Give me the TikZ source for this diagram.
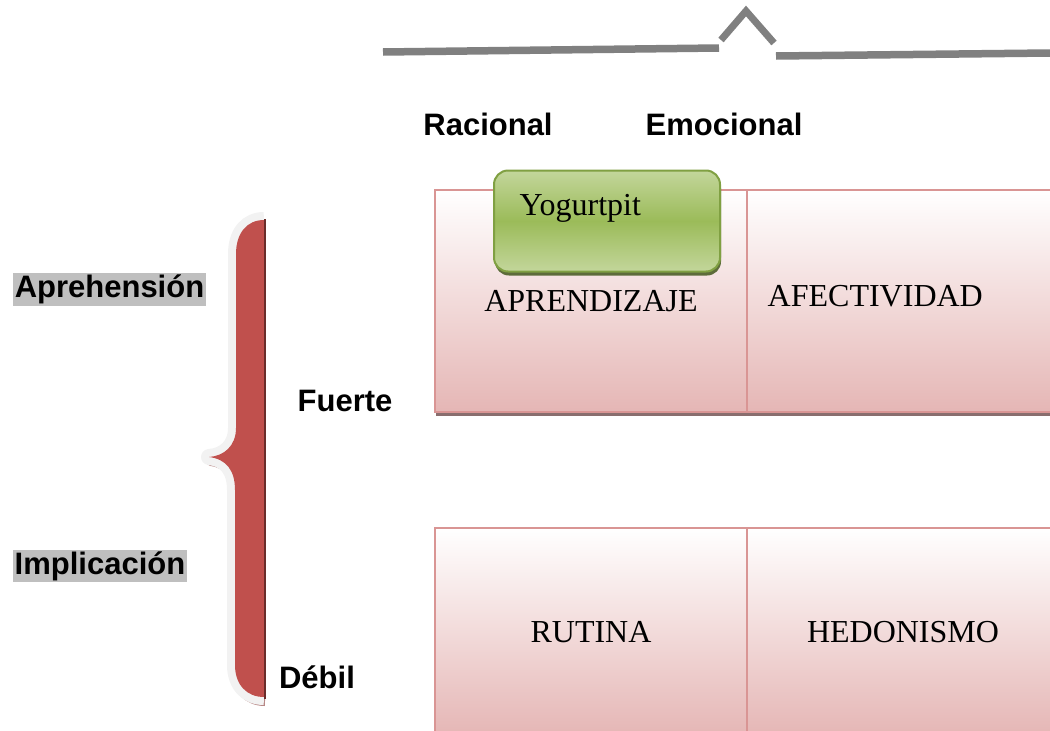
\documentclass[tikz,border=0pt]{standalone}
\usepackage{fontspec}
\setmainfont{Liberation Serif}
\setsansfont{Liberation Sans}
\usepackage {tikz}
\usetikzlibrary {positioning}
\usetikzlibrary{shadows}
\definecolor{pinkline}{RGB}{217,149,148}
\definecolor{pinkbot}{RGB}{229,182,181}
\definecolor{gtop}{RGB}{195,214,155}
\definecolor{gmid}{RGB}{155,187,89}
\definecolor{gline}{RGB}{128,160,66}
\definecolor{bracered}{RGB}{192,80,77}
\definecolor{braceedge}{RGB}{242,242,242}
\definecolor{labelgrey}{RGB}{191,191,191}
\definecolor{topline}{RGB}{128,128,128}
\tikzset{cell/.style = {draw=pinkline, line width=2.5pt, top color=white, bottom color=pinkbot, minimum width=312pt, outer sep=0pt, inner sep=0pt, font=\fontsize{32}{37}\selectfont}}
\tikzset{axis label/.style = {font=\sffamily\bfseries\fontsize{31}{36}\selectfont, inner sep=1.5pt}}

\begin{document}
\begin{tikzpicture}[x=1pt, y=-1pt, thick, box text/.style={font=\fontsize{32}{37}\selectfont}]
            \useasboundingbox (0,0) rectangle (1050,731);
            % top line with the caret
            \coordinate (l1) at (383,52);
            \coordinate (l2) at (719,48);
            \coordinate (c1) at (721,40);
            \coordinate (c2) at (746,11);
            \coordinate (c3) at (774,43);
            \coordinate (r1) at (776,56);
            \coordinate (r2) at (1050,53);
            \draw[topline, line width=7.5pt] (l1) -- (l2);
            \draw[topline, line width=7pt] (c1) -- (c2) -- (c3);
            \draw[topline, line width=7.5pt] (r1) -- (r2);
            \node[axis label] (rac) at (488,124) {Racional};
            \node[axis label] (emo) at (724,124) {Emocional};
            % the brace
            \draw[black!30!bracered!60, line width=10pt, line join=round, xshift=1pt, yshift=-4pt] (236,440) .. controls (232,452) and (222,456) .. (210,457) .. controls (226,459) and (235,470) .. (235,490) -- (235,665) .. controls (235,685) and (247,697) .. (264,697);
            \draw[braceedge, line width=16pt, line join=round] (264,220) .. controls (247,220) and (236,233) .. (236,254) -- (236,428) .. controls (236,446) and (224,456) .. (209,457) .. controls (226,459) and (235,470) .. (235,490) -- (235,665) .. controls (235,685) and (247,697) .. (264,697);
            \fill[bracered] (264,220) .. controls (247,220) and (236,233) .. (236,254) -- (236,428) .. controls (236,446) and (224,456) .. (209,457) .. controls (226,459) and (235,470) .. (235,490) -- (235,665) .. controls (235,685) and (247,697) .. (264,697) -- cycle;
            \draw[black!45!bracered, line width=1.5pt] (265,219) -- (265,699);
            \node[axis label, fill=labelgrey] (apre) at (109.5,289.5) {Aprehensión};
            \node[axis label, fill=labelgrey] (impl) at (100,566) {Implicación};
            \node[axis label] (fue) at (345,401) {Fuerte};
            \node[axis label] (deb) at (317,677) {Débil};
            % the four cells
            \node[cell, minimum height=222pt, drop shadow={shadow xshift=1pt, shadow yshift=-4pt, fill=black!50!pinkline, opacity=.8}] (apr) at (591,301) {APRENDIZAJE};
            \node[cell, minimum height=222pt, drop shadow={shadow xshift=1pt, shadow yshift=-4pt, fill=black!50!pinkline, opacity=.8}] (afe) [right=0pt of apr] {};
            \node[box text, anchor=west] (afet) at (764,296) {AFECTIVIDAD};
            \node[cell, minimum height=208pt] (rut) at (591,632) {RUTINA};
            \node[cell, minimum height=208pt] (hed) [right=0pt of rut] {HEDONISMO};
            % the green tag
            \node[draw=gline, line width=2pt, rounded corners=14pt, minimum width=226pt, minimum height=101pt, top color=gtop, bottom color=gtop, middle color=gmid, drop shadow={shadow xshift=1pt, shadow yshift=-4pt, fill=gline!60!black, opacity=.9}] (yog) at (607,221) {};
            \node[box text, anchor=west] (yogt) at (516,208) {Yogurtpit};
        \end{tikzpicture}
\end{document}
